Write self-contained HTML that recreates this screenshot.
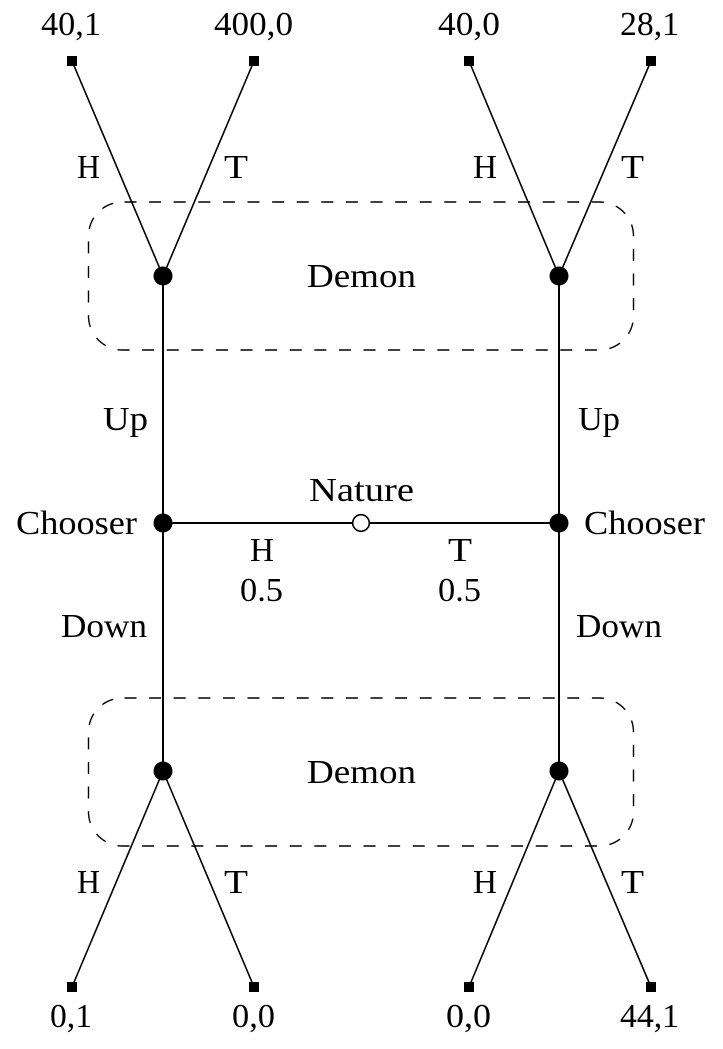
<!DOCTYPE html>
<html>
<head>
<meta charset="utf-8">
<style>
html,body{margin:0;padding:0;background:#fff;}
svg{display:block;}
text{font-family:"Liberation Serif",serif;font-size:34px;fill:#000;}
</style>
</head>
<body>
<svg width="723" height="1049" viewBox="0 0 723 1049" xmlns="http://www.w3.org/2000/svg">
<rect x="0" y="0" width="723" height="1049" fill="#fff"/>
<!-- dashed info sets -->
<rect x="88.5" y="202" width="545" height="148" rx="34" ry="34" fill="none" stroke="#000" stroke-width="1.4" stroke-dasharray="12,12.6" stroke-dashoffset="-2"/>
<rect x="88.5" y="698" width="545" height="148" rx="34" ry="34" fill="none" stroke="#000" stroke-width="1.4" stroke-dasharray="12,12.6" stroke-dashoffset="-2"/>
<!-- edges -->
<g stroke="#000" stroke-width="1.6" fill="none">
<line x1="72" y1="61" x2="163" y2="276"/>
<line x1="254" y1="61" x2="163" y2="276"/>
<line x1="469" y1="61" x2="559" y2="276"/>
<line x1="651" y1="61" x2="559" y2="276"/>
<line x1="163" y1="771" x2="72" y2="987"/>
<line x1="163" y1="771" x2="254" y2="987"/>
<line x1="559" y1="771" x2="469" y2="987"/>
<line x1="559" y1="771" x2="651" y2="987"/>
</g>
<g stroke="#000" stroke-width="2" fill="none">
<line x1="163" y1="276" x2="163" y2="771"/>
<line x1="559" y1="276" x2="559" y2="771"/>
<line x1="163" y1="523" x2="559" y2="523"/>
</g>
<!-- leaves -->
<g fill="#000">
<rect x="67" y="56" width="10" height="10"/>
<rect x="249" y="56" width="10" height="10"/>
<rect x="464" y="56" width="10" height="10"/>
<rect x="646" y="56" width="10" height="10"/>
<rect x="67" y="982" width="10" height="10"/>
<rect x="249" y="982" width="10" height="10"/>
<rect x="464" y="982" width="10" height="10"/>
<rect x="646" y="982" width="10" height="10"/>
</g>
<!-- decision nodes -->
<g fill="#000">
<circle cx="163" cy="276" r="9.5"/>
<circle cx="559" cy="276" r="9.5"/>
<circle cx="163" cy="523" r="9.5"/>
<circle cx="559" cy="523" r="9.5"/>
<circle cx="163" cy="771" r="9.5"/>
<circle cx="559" cy="771" r="9.5"/>
</g>
<circle cx="361" cy="523" r="8.3" fill="#fff" stroke="#000" stroke-width="1.6"/>
<!-- labels -->
<text x="41" y="35" textLength="60" lengthAdjust="spacingAndGlyphs">40,1</text>
<text x="214" y="35" textLength="79" lengthAdjust="spacingAndGlyphs">400,0</text>
<text x="438" y="35" textLength="62" lengthAdjust="spacingAndGlyphs">40,0</text>
<text x="620" y="35" textLength="59" lengthAdjust="spacingAndGlyphs">28,1</text>

<text x="77" y="178" textLength="23" lengthAdjust="spacingAndGlyphs">H</text>
<text x="224" y="178" textLength="24" lengthAdjust="spacingAndGlyphs">T</text>
<text x="473" y="178" textLength="24" lengthAdjust="spacingAndGlyphs">H</text>
<text x="621" y="178" textLength="23" lengthAdjust="spacingAndGlyphs">T</text>

<text x="307" y="287" textLength="109" lengthAdjust="spacingAndGlyphs">Demon</text>

<text x="103" y="430" textLength="45" lengthAdjust="spacingAndGlyphs">Up</text>
<text x="578" y="430" textLength="42" lengthAdjust="spacingAndGlyphs">Up</text>

<text x="309" y="501" textLength="105" lengthAdjust="spacingAndGlyphs">Nature</text>
<text x="16" y="534" textLength="121" lengthAdjust="spacingAndGlyphs">Chooser</text>
<text x="584" y="534" textLength="121" lengthAdjust="spacingAndGlyphs">Chooser</text>

<text x="250" y="561" textLength="24" lengthAdjust="spacingAndGlyphs">H</text>
<text x="448" y="561" textLength="24" lengthAdjust="spacingAndGlyphs">T</text>
<text x="240" y="601" textLength="43" lengthAdjust="spacingAndGlyphs">0.5</text>
<text x="438" y="601" textLength="43" lengthAdjust="spacingAndGlyphs">0.5</text>

<text x="61" y="637" textLength="86" lengthAdjust="spacingAndGlyphs">Down</text>
<text x="576" y="637" textLength="86" lengthAdjust="spacingAndGlyphs">Down</text>

<text x="307" y="783" textLength="109" lengthAdjust="spacingAndGlyphs">Demon</text>

<text x="77" y="893" textLength="23" lengthAdjust="spacingAndGlyphs">H</text>
<text x="224" y="893" textLength="24" lengthAdjust="spacingAndGlyphs">T</text>
<text x="473" y="893" textLength="24" lengthAdjust="spacingAndGlyphs">H</text>
<text x="621" y="893" textLength="23" lengthAdjust="spacingAndGlyphs">T</text>

<text x="50" y="1027" textLength="42" lengthAdjust="spacingAndGlyphs">0,1</text>
<text x="232" y="1027" textLength="43" lengthAdjust="spacingAndGlyphs">0,0</text>
<text x="446" y="1027" textLength="45" lengthAdjust="spacingAndGlyphs">0,0</text>
<text x="620" y="1027" textLength="59" lengthAdjust="spacingAndGlyphs">44,1</text>
</svg>
</body>
</html>
